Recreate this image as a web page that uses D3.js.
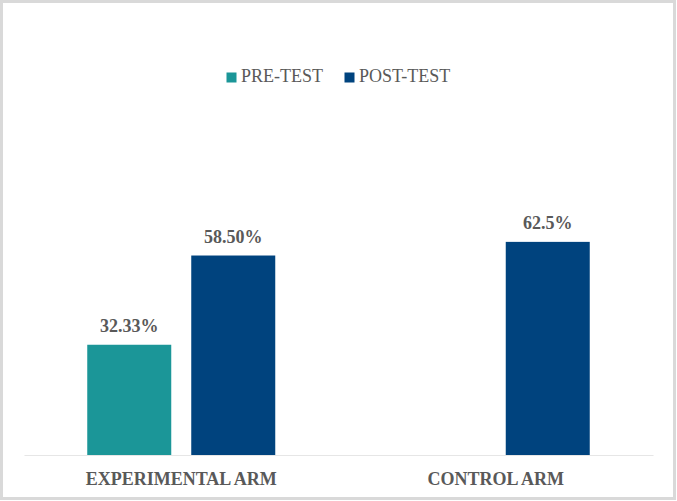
<!DOCTYPE html>
<html>
<head>
<meta charset="utf-8">
<script src="https://cdn.jsdelivr.net/npm/d3@7"></script>
<style>
  html, body { margin: 0; padding: 0; background: #ffffff; }
  svg { display: block; }
</style>
</head>
<body>
<script>
// ---- data ----
const categories = ["EXPERIMENTAL ARM", "CONTROL ARM"];
const seriesNames = ["PRE-TEST", "POST-TEST"];
const preTest = [32.33, null];
const postTest = [58.50, 62.5];
const preLabels = ["32.33%", null];
const postLabels = ["58.50%", "62.5%"];
const seriesColors = ["#1b9698", "#00437e"];

const W = 677, H = 501;
const svg = d3.select("body").append("svg").attr("width", W).attr("height", H);

// chart frame
svg.append("rect").attr("x", 1.5).attr("y", 1.5).attr("width", W - 4).attr("height", H - 4)
  .attr("fill", "#ffffff").attr("stroke", "#d9d9d9").attr("stroke-width", 3);

const plotLeft = 24, plotRight = 653, baseY = 455;
const x0 = d3.scaleBand().domain(categories).range([plotLeft, plotRight]).padding(0);
const groupW = 188;
const x1 = d3.scaleBand().domain(seriesNames).range([0, groupW]).paddingInner(20 / 104).paddingOuter(0);
const y = d3.scaleLinear().domain([0, 100]).range([baseY, 114]);

const seriesData = [preTest, postTest];
const seriesLabels = [preLabels, postLabels];

const fontSerif = "'Liberation Serif', 'Times New Roman', serif";
const textColor = "#595959";

// baseline axis
const xAxis = d3.axisBottom(x0).tickSize(0).tickPadding(0).tickFormat("");
const axisG = svg.append("g").attr("transform", `translate(0,${baseY})`).call(xAxis);
axisG.select(".domain").attr("stroke", "#e6e6e6").attr("stroke-width", 1.2);

// bars
categories.forEach((cat, ci) => {
  const gx = x0(cat) + (x0.bandwidth() - groupW) / 2;
  seriesNames.forEach((s, si) => {
    const v = seriesData[si][ci];
    if (v == null) return;
    const bx = gx + x1(s);
    svg.append("rect")
      .attr("x", bx).attr("y", y(v))
      .attr("width", x1.bandwidth()).attr("height", y(0) - y(v))
      .attr("fill", seriesColors[si]);
    svg.append("text")
      .attr("x", bx + x1.bandwidth() / 2).attr("y", y(v) - 12.5)
      .attr("text-anchor", "middle")
      .attr("font-family", fontSerif).attr("font-weight", "bold").attr("font-size", 18)
      .attr("fill", textColor)
      .text(seriesLabels[si][ci]);
  });
});

// category labels
categories.forEach(cat => {
  svg.append("text")
    .attr("x", x0(cat) + x0.bandwidth() / 2).attr("y", 484.5)
    .attr("text-anchor", "middle")
    .attr("font-family", fontSerif).attr("font-weight", "bold").attr("font-size", 18)
    .attr("fill", textColor)
    .text(cat);
});

// legend
const legendX = [226.5, 344.5];
seriesNames.forEach((s, si) => {
  svg.append("rect").attr("x", legendX[si]).attr("y", 72.5).attr("width", 10).attr("height", 10)
    .attr("fill", seriesColors[si]);
  svg.append("text").attr("x", legendX[si] + 14.5).attr("y", 82)
    .attr("font-family", fontSerif).attr("font-size", 18).attr("fill", textColor)
    .text(s);
});
</script>
</body>
</html>
